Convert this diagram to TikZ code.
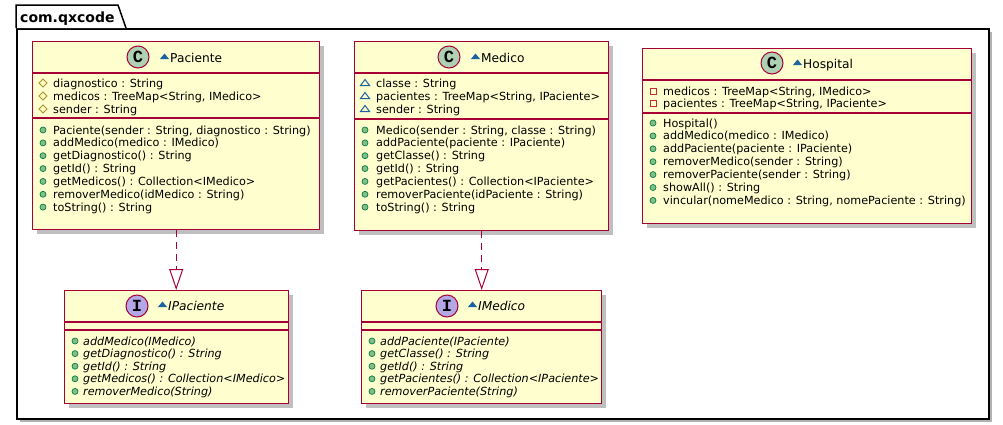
\documentclass[tikz,border=0pt]{standalone}
\usepackage{fontspec}
\setmainfont{DejaVu Sans}
\setmonofont{Liberation Mono}
\usetikzlibrary{arrows.meta,shadows}
\definecolor{boxfill}{HTML}{FEFECE}
\definecolor{umlred}{HTML}{A80036}
\definecolor{cgreen}{HTML}{ADD1B2}
\definecolor{ipurple}{HTML}{B4A7E5}
\definecolor{pubfill}{HTML}{84BE84}
\definecolor{pubdraw}{HTML}{038048}
\definecolor{protcol}{HTML}{B38D22}
\definecolor{pkgblue}{HTML}{1963A0}
\definecolor{privcol}{HTML}{C82930}
\tikzset{
  pkgbox/.style={rectangle, draw=black, fill=white, line width=1.5pt, inner sep=0pt, anchor=north west,
    drop shadow={shadow xshift=3pt, shadow yshift=-3pt, opacity=0.3, fill=black}},
  pkgline/.style={draw=black, fill=white, line width=1.5pt},
  pkgtext/.style={inner sep=0pt, anchor=base west, font=\bfseries\fontsize{14}{16}\selectfont},
  classbox/.style={rectangle, draw=umlred, fill=boxfill, line width=1.4pt, inner sep=0pt, anchor=north west,
    drop shadow={shadow xshift=4pt, shadow yshift=-4pt, opacity=0.25, fill=black}},
  sepline/.style={draw=umlred, line width=1.4pt},
  mtext/.style={inner sep=0pt, anchor=base west, font=\fontsize{11.2}{13}\selectfont},
  itext/.style={inner sep=0pt, anchor=base west, font=\fontsize{11.2}{13}\selectfont\itshape},
  ntext/.style={inner sep=0pt, anchor=base west, font=\fontsize{12.2}{14}\selectfont},
  intext/.style={inner sep=0pt, anchor=base west, font=\fontsize{12.2}{14}\selectfont\itshape},
  circC/.style={circle, minimum size=22pt, inner sep=0pt, fill=cgreen, draw=umlred, line width=1pt,
    font=\ttfamily\bfseries\fontsize{17}{17}\selectfont},
  circI/.style={circC, fill=ipurple},
  impl/.style={draw=umlred, line width=1pt, dash pattern=on 7pt off 5pt,
    -{Triangle[open, length=21pt, width=14pt]}},
  pics/pub/.style={code={\filldraw[fill=pubfill, draw=pubdraw, line width=0.7pt] (0,0) circle[radius=3pt];}},
  pics/prot/.style={code={\draw[protcol, line width=1pt] (-4,0) -- (0,-4) -- (4,0) -- (0,4) -- cycle;}},
  pics/pkgvis/.style={code={\draw[pkgblue, line width=1pt] (-4.5,2.5) -- (4.5,2.5) -- (0,-3.5) -- cycle;}},
  pics/priv/.style={code={\draw[privcol, line width=1pt] (-3,-3) rectangle (3,3);}},
}
% name, icon x, text x, baseline, icon, text
\newcommand\mem[6]{\pic at (#2,#4-4) {#5}; \node[mtext] (#1) at (#3,#4) {#6};}
\newcommand\imem[6]{\pic at (#2,#4-4) {#5}; \node[itext] (#1) at (#3,#4) {#6};}
% name, x, baseline, text, style
\newcommand\clsname[5]{\fill[pkgblue] (#2-10,#3-3) -- (#2-1,#3-3) -- (#2-5.5,#3-8.5) -- cycle;
  \node[#5] (#1) at (#2,#3) {#4};}
\begin{document}
\begin{tikzpicture}[x=1pt,y=-1pt]
\useasboundingbox (0,0) rectangle (1003,424);
% package
\node[pkgbox, minimum width=972pt, minimum height=390pt] (pkg) at (16,28) {};
\draw[pkgline] (pkg.north west) -- (16,5) -- (118,5) -- (126,28);
\node[pkgtext] (pkgname) at (20,22) {com.qxcode};

% Paciente
\node[classbox, minimum width=287pt, minimum height=188pt] (paciente) at (32,41) {};
\draw[sepline] (paciente.west |- 0,73) -- (paciente.east |- 0,73);
\draw[sepline] (paciente.west |- 0,118) -- (paciente.east |- 0,118);
\node[circC] (pacC) at (138,57) {C};
\clsname{pacN}{170}{62}{Paciente}{ntext}
\mem{pa1}{43}{53}{87}{prot}{diagnostico : String}
\mem{pa2}{43}{53}{100}{prot}{medicos : TreeMap<String, IMedico>}
\mem{pa3}{43}{53}{113}{prot}{sender : String}
\mem{pm1}{43}{53}{134}{pub}{Paciente(sender : String, diagnostico : String)}
\mem{pm2}{43}{53}{146.9}{pub}{addMedico(medico : IMedico)}
\mem{pm3}{43}{53}{159.7}{pub}{getDiagnostico() : String}
\mem{pm4}{43}{53}{172.6}{pub}{getId() : String}
\mem{pm5}{43}{53}{185.4}{pub}{getMedicos() : Collection<IMedico>}
\mem{pm6}{43}{53}{198.3}{pub}{removerMedico(idMedico : String)}
\mem{pm7}{43}{53}{211.1}{pub}{toString() : String}

% Medico
\node[classbox, minimum width=254pt, minimum height=189pt] (medico) at (354,41) {};
\draw[sepline] (medico.west |- 0,73) -- (medico.east |- 0,73);
\draw[sepline] (medico.west |- 0,119) -- (medico.east |- 0,119);
\node[circC] (medC) at (449,57) {C};
\clsname{medN}{481}{62}{Medico}{ntext}
\mem{ma1}{365}{376}{87}{pkgvis}{classe : String}
\mem{ma2}{365}{376}{100}{pkgvis}{pacientes : TreeMap<String, IPaciente>}
\mem{ma3}{365}{376}{113}{pkgvis}{sender : String}
\mem{mm1}{365}{376}{134}{pub}{Medico(sender : String, classe : String)}
\mem{mm2}{365}{376}{146.9}{pub}{addPaciente(paciente : IPaciente)}
\mem{mm3}{365}{376}{159.7}{pub}{getClasse() : String}
\mem{mm4}{365}{376}{172.6}{pub}{getId() : String}
\mem{mm5}{365}{376}{185.4}{pub}{getPacientes() : Collection<IPaciente>}
\mem{mm6}{365}{376}{198.3}{pub}{removerPaciente(idPaciente : String)}
\mem{mm7}{365}{376}{211.1}{pub}{toString() : String}

% Hospital
\node[classbox, minimum width=329pt, minimum height=175pt] (hospital) at (642,48) {};
\draw[sepline] (hospital.west |- 0,80) -- (hospital.east |- 0,80);
\draw[sepline] (hospital.west |- 0,113) -- (hospital.east |- 0,113);
\node[circC] (hosC) at (772,63) {C};
\clsname{hosN}{803}{68}{Hospital}{ntext}
\mem{ha1}{653}{663}{95}{priv}{medicos : TreeMap<String, IMedico>}
\mem{ha2}{653}{663}{107.9}{priv}{pacientes : TreeMap<String, IPaciente>}
\mem{hm1}{653}{663}{127}{pub}{Hospital()}
\mem{hm2}{653}{663}{139.9}{pub}{addMedico(medico : IMedico)}
\mem{hm3}{653}{663}{152.8}{pub}{addPaciente(paciente : IPaciente)}
\mem{hm4}{653}{663}{165.7}{pub}{removerMedico(sender : String)}
\mem{hm5}{653}{663}{178.6}{pub}{removerPaciente(sender : String)}
\mem{hm6}{653}{663}{191.5}{pub}{showAll() : String}
\mem{hm7}{653}{663}{204.4}{pub}{vincular(nomeMedico : String, nomePaciente : String)}

% IPaciente
\node[classbox, minimum width=224pt, minimum height=113pt] (ipaciente) at (64,290) {};
\draw[sepline] (ipaciente.west |- 0,322) -- (ipaciente.east |- 0,322);
\draw[sepline] (ipaciente.west |- 0,330) -- (ipaciente.east |- 0,330);
\node[circI] (ipaI) at (137,306) {I};
\clsname{ipaN}{168}{310}{IPaciente}{intext}
\imem{ipm1}{75}{83}{345}{pub}{addMedico(IMedico)}
\imem{ipm2}{75}{83}{357.6}{pub}{getDiagnostico() : String}
\imem{ipm3}{75}{83}{370.2}{pub}{getId() : String}
\imem{ipm4}{75}{83}{382.8}{pub}{getMedicos() : Collection<IMedico>}
\imem{ipm5}{75}{83}{395.4}{pub}{removerMedico(String)}

% IMedico
\node[classbox, minimum width=240pt, minimum height=113pt] (imedico) at (361,290) {};
\draw[sepline] (imedico.west |- 0,322) -- (imedico.east |- 0,322);
\draw[sepline] (imedico.west |- 0,330) -- (imedico.east |- 0,330);
\node[circI] (imeI) at (447,306) {I};
\clsname{imeN}{478}{310}{IMedico}{intext}
\imem{imm1}{372}{380}{345}{pub}{addPaciente(IPaciente)}
\imem{imm2}{372}{380}{357.6}{pub}{getClasse() : String}
\imem{imm3}{372}{380}{370.2}{pub}{getId() : String}
\imem{imm4}{372}{380}{382.8}{pub}{getPacientes() : Collection<IPaciente>}
\imem{imm5}{372}{380}{395.4}{pub}{removerPaciente(String)}

% realizations
\draw[impl] (paciente.south) -- (paciente.south |- ipaciente.north);
\draw[impl] (medico.south) -- (medico.south |- imedico.north);
\end{tikzpicture}
\end{document}
